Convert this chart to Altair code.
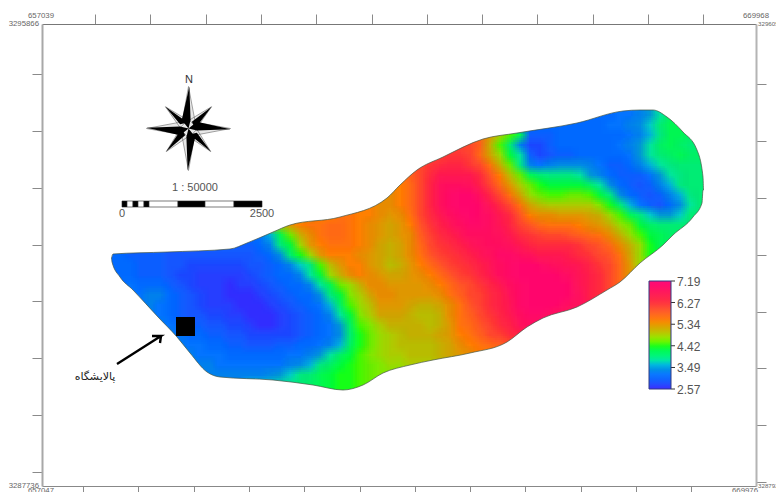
import altair as alt
import pandas as pd

# Values, cell centres on a 10 px lattice: (first column, row centre, values)
rows = [
 (590,115,[3.1,3.1,3.1,3.2,3.2,3.3,3.5,3.8,4.1,4.1,4.1]),
 (530,125,[3.1,3.1,3.1,3.1,3.1,3.1,3.1,3.1,3.2,3.2,3.3,3.4,3.7,4.0,4.2,4.2,4.1]),
 (480,135,[5.7,5.3,4.9,4.5,4.2,3.0,3.0,3.0,3.1,3.1,3.1,3.1,3.1,3.1,3.1,3.2,3.3,3.6,3.9,4.2,4.2,4.1,4.0]),
 (460,145,[6.1,6.0,5.8,5.1,4.5,4.0,3.3,2.8,2.8,3.0,3.1,3.1,3.1,3.1,3.1,3.1,3.2,3.3,3.5,3.8,4.1,4.2,4.1,4.0,4.0]),
 (440,155,[6.1,6.2,6.2,6.1,5.7,5.2,4.8,4.3,3.8,3.0,2.8,2.9,3.0,3.0,3.1,3.1,3.1,3.1,3.1,3.2,3.5,3.8,4.0,4.1,4.2,4.1,4.1]),
 (420,165,[6.0,6.2,6.3,6.4,6.4,6.2,6.0,5.6,5.1,4.6,3.9,3.3,3.2,3.3,3.4,3.4,3.4,3.3,3.2,3.0,3.0,3.1,3.3,3.6,3.8,3.9,4.0,4.0,4.0]),
 (400,175,[5.6,5.8,6.0,6.3,6.6,6.6,6.6,6.6,6.3,5.9,5.5,5.0,4.6,4.2,4.0,3.9,3.9,3.9,3.8,3.5,3.3,3.1,3.0,3.0,3.0,3.2,3.5,3.8,3.9,4.0,4.0]),
 (390,185,[5.4,5.5,5.7,6.0,6.4,6.8,6.9,6.9,6.8,6.5,6.1,5.7,5.3,4.9,4.6,4.4,4.3,4.3,4.3,4.3,4.1,3.8,3.4,3.1,3.0,2.9,3.0,3.3,3.6,3.9,4.0,4.0]),
 (380,195,[5.4,5.4,5.5,5.7,6.0,6.4,6.8,7.0,7.1,7.1,6.8,6.4,6.0,5.6,5.2,4.8,4.6,4.5,4.5,4.6,4.6,4.5,4.3,3.9,3.4,3.1,3.0,2.9,3.0,3.3,3.6,3.9,4.0]),
 (350,205,[5.5,5.5,5.5,5.4,5.4,5.5,5.7,6.0,6.4,6.8,7.0,7.1,7.1,7.0,6.7,6.3,6.0,5.6,5.2,5.0,4.9,4.9,4.9,4.9,4.9,4.7,4.4,4.0,3.6,3.2,3.0,2.9,3.1,3.4,3.8,4.0]),
 (310,215,[5.4,5.5,5.5,5.6,5.6,5.5,5.5,5.4,5.3,5.4,5.6,6.0,6.3,6.6,6.9,7.0,7.1,7.0,6.9,6.6,6.3,5.9,5.5,5.4,5.4,5.3,5.3,5.3,5.2,5.1,4.8,4.5,4.2,3.9,3.7,3.5,3.5,3.7,4.0,4.0]),
 (280,225,[5.0,5.3,5.5,5.6,5.6,5.7,5.7,5.6,5.5,5.4,5.3,5.2,5.3,5.5,5.9,6.2,6.5,6.7,6.9,7.0,7.0,6.9,6.7,6.4,6.1,5.9,5.7,5.6,5.6,5.6,5.5,5.4,5.3,5.1,4.8,4.6,4.3,4.1,4.0,4.0,4.0,4.0]),
 (250,235,[3.1,3.2,3.6,4.2,4.6,5.1,5.4,5.6,5.7,5.7,5.6,5.5,5.4,5.3,5.2,5.3,5.4,5.8,6.1,6.3,6.5,6.7,6.9,6.9,6.9,6.8,6.6,6.3,6.2,6.1,6.0,6.0,5.9,5.8,5.7,5.6,5.4,5.1,4.8,4.5,4.3,4.2,4.1,4.1]),
 (230,245,[3.0,3.0,3.0,3.1,3.3,3.9,4.3,4.8,5.3,5.5,5.6,5.6,5.6,5.5,5.4,5.2,5.1,5.2,5.4,5.7,6.0,6.2,6.3,6.5,6.7,6.8,6.9,6.9,6.8,6.6,6.4,6.3,6.3,6.3,6.3,6.2,6.0,5.9,5.7,5.4,5.1,4.8,4.4,4.2,4.1]),
 (110,255,[3.1,3.1,3.0,3.0,3.0,3.0,2.9,2.9,2.9,2.9,2.9,2.9,2.9,2.9,2.9,3.0,3.1,3.4,4.0,4.4,4.8,5.3,5.5,5.5,5.5,5.4,5.3,5.2,5.1,5.2,5.4,5.6,5.9,6.1,6.2,6.3,6.5,6.7,6.8,7.0,7.0,6.9,6.8,6.6,6.6,6.6,6.5,6.3,6.2,6.0,5.9,5.6,5.2,4.8,4.4,4.3]),
 (110,265,[3.1,3.1,3.1,3.0,3.0,3.0,2.9,2.9,2.8,2.8,2.8,2.8,2.8,2.8,2.9,2.9,3.0,3.1,3.3,3.7,3.9,4.5,5.0,5.3,5.5,5.5,5.3,5.2,5.0,5.1,5.3,5.5,5.7,5.9,6.1,6.2,6.3,6.5,6.7,6.9,7.0,7.1,7.1,7.0,6.9,6.8,6.7,6.6,6.4,6.2,6.0,5.7,5.3,4.8]),
 (110,275,[3.1,3.1,3.1,3.0,3.0,3.0,2.9,2.8,2.8,2.7,2.7,2.7,2.7,2.7,2.8,2.9,3.0,3.1,3.1,3.3,3.8,4.3,4.8,5.1,5.4,5.5,5.4,5.3,5.2,5.2,5.3,5.4,5.5,5.7,5.9,6.1,6.2,6.4,6.6,6.9,7.0,7.1,7.1,7.1,7.1,7.0,6.9,6.7,6.5,6.3,6.0,5.7,5.3]),
 (120,285,[3.1,3.2,3.1,3.1,3.1,3.0,2.9,2.8,2.7,2.7,2.7,2.6,2.7,2.7,2.8,2.9,3.0,3.1,3.1,3.3,3.8,4.2,4.6,4.8,5.1,5.4,5.4,5.3,5.3,5.3,5.3,5.4,5.5,5.7,5.9,6.0,6.2,6.4,6.6,6.9,7.0,7.1,7.1,7.1,7.1,7.0,6.7,6.5,6.3,6.0,5.7]),
 (130,295,[3.2,3.2,3.3,3.3,3.1,3.0,2.9,2.8,2.7,2.7,2.6,2.6,2.6,2.7,2.8,2.9,3.0,3.1,3.1,3.4,3.9,4.3,4.7,4.9,5.2,5.4,5.4,5.3,5.3,5.3,5.3,5.4,5.6,5.8,6.0,6.1,6.3,6.5,6.8,7.0,7.1,7.1,7.1,7.1,7.0,6.8,6.5,6.3,6.1]),
 (140,305,[3.2,3.3,3.2,3.1,3.0,2.9,2.8,2.7,2.7,2.7,2.6,2.6,2.6,2.7,2.8,2.9,3.0,3.1,3.2,3.6,4.1,4.5,4.8,5.0,5.3,5.3,5.3,5.2,5.1,5.1,5.2,5.4,5.6,5.9,6.1,6.3,6.5,6.7,7.0,7.1,7.1,7.1,7.0,6.9,6.8,6.6]),
 (150,315,[3.3,3.2,3.1,3.0,2.9,2.9,2.8,2.8,2.7,2.7,2.6,2.6,2.6,2.7,2.8,2.9,3.0,3.1,3.3,3.8,4.3,4.7,4.9,5.2,5.2,5.2,5.1,5.0,5.0,5.1,5.4,5.6,5.8,6.0,6.2,6.4,6.6,6.9,7.0,7.0,6.9,6.8,6.7]),
 (160,325,[3.3,3.2,3.1,3.0,3.0,2.9,2.9,2.8,2.8,2.7,2.6,2.6,2.7,2.8,2.9,3.0,3.1,3.2,3.5,4.1,4.5,4.7,4.9,5.1,5.1,5.1,5.1,5.0,5.1,5.3,5.6,5.7,5.9,6.1,6.3,6.5,6.8,6.9,6.9]),
 (170,335,[3.3,3.2,3.1,3.1,3.0,3.0,2.9,2.9,2.8,2.8,2.8,2.8,2.8,2.9,3.0,3.1,3.2,3.4,4.0,4.4,4.6,4.8,4.9,5.0,5.1,5.1,5.1,5.2,5.3,5.5,5.6,5.8,6.0,6.1,6.3,6.4]),
 (180,345,[3.3,3.2,3.2,3.1,3.1,3.0,3.0,2.9,2.9,2.9,3.0,3.0,3.1,3.1,3.2,3.3,3.6,4.1,4.4,4.6,4.8,4.9,5.0,5.0,5.0,5.0,5.1,5.2,5.4,5.5,5.6,5.7,5.8,5.9]),
 (190,355,[3.3,3.2,3.2,3.2,3.1,3.1,3.1,3.1,3.1,3.1,3.2,3.2,3.3,3.5,3.8,4.1,4.3,4.5,4.7,4.8,4.9,4.9,5.0,5.0,5.0,5.1,5.2,5.3,5.4,5.5]),
 (200,365,[3.3,3.3,3.2,3.2,3.2,3.2,3.2,3.2,3.2,3.3,3.4,3.6,3.9,4.1,4.3,4.4,4.5,4.6,4.7,4.8,4.8,4.9,4.9,4.9,5.0]),
 (210,375,[3.3,3.3,3.3,3.3,3.3,3.3,3.4,3.5,3.7,3.9,4.0,4.2,4.3,4.4,4.4,4.5,4.6,4.7,4.7]),
 (270,385,[3.7,3.8,3.9,4.0,4.1,4.2,4.3,4.4,4.4,4.5,4.6]),
]

# The same readings are painted several times with small shifts and falling opacity, so
# that the cells blend into the soft gradient of the original raster.
steps = [0, -4, -2, 2, 4]
shifts = [(a, b) for a in steps for b in steps]
cells = []
for k, (dx, dy) in enumerate(shifts):
    for s, y, vals in rows:
        padded = [vals[0]] * 2 + vals + [vals[-1]] * 2
        for i, v in enumerate(padded):
            c = s + 10 * (i - 2) + dx
            cells.append({"x0": c - 5, "x1": c + 5, "y0": y + dy - 5, "y1": y + dy + 5,
                          "v": v, "op": round(1 / (k + 1), 3)})

top_x = [75,111.5,113,167,230,247,273,290,340,387,400,417,443,483,517,577,623,640,653,667,683,697,703,703.5,735]
top_y = [258,258,254,252,249,243,232,225,217,198,185,170,157,139,133,123,111,110,110,117,132,150,177,190,190]
bot_x = [75,111.5,112,120,133,158,177,190,207,220,273,313,343,363,383,410,433,470,507,527,543,577,607,620,640,663,673,693,702,703,703.5,735]
bot_y = [258,258,262,277,290,317,337,353,372,377,380,385,390,385,373,365,360,353,342,327,318,307,290,282,263,245,235,217,203,190,190,190]

stops = [2.57,2.9,3.2,3.49,3.85,4.42,4.7,5.1,5.5,6.27,7.19]
stop_colors = ["#3c2cff","#1b5cff","#0a78ff","#0098d8","#00f08c","#20ff10","#80f000","#c8b400","#ff8000","#ff3040","#ff0a78"]
legend_vals = [2.57,3.49,4.42,5.34,6.27,7.19]

top_ticks = [95,150.3,205.6,260.9,316.2,371.5,426.8,482.1,537.4,592.7,648,703.3]
bot_ticks = [83,138.3,193.6,248.9,304.2,359.5,414.8,470.1,525.4,580.7,636,691.3]
left_ticks = [73.7,130.6,187.6,244.5,301,358,414.5,471.7]
right_ticks = [84,141,198,255,312,368,425,482]

seg_a = [122,127,133,138,144,149,178,205,234]
seg_b = [127,133,138,144,149,178,205,234,262]
seg_c = ["k","w","k","w","k","w","k","w","k"]

corner_txt = ["657039","3295866","669968","329605","3287736","328792","657047","669976"]
corner_x = [41,39,756,758,39,758,41,745]
corner_y = [16,24,16,24,486,486,491,491]
corner_al = ["center","right","center","left","right","left","center","center"]
corner_fs = [7.8,7.8,7.8,6.2,7.8,6.2,7.8,7.8]

texts = [("N",189,80,11,"#333","center","Liberation Sans"),
         ("1 : 50000",195,188,11,"#555","center","Liberation Sans"),
         ("0",122,214,11,"#555","center","Liberation Sans"),
         ("2500",262,214,11,"#555","center","Liberation Sans"),
         ("پالایشگاه",95,377,11,"#222","center","DejaVu Sans")]

arrow_x = [117,161,152,161,160]
arrow_y = [364,336,336,336,343]

STAR_LIGHT = ("M0,-1 L0.16,-0.15 L1,0 L0.15,0.16 L0,1 L-0.16,0.15 L-1,0 L-0.15,-0.16 Z "
              "M-0.55,-0.52 L-0.02,-0.2 L-0.2,-0.02 Z M0.55,-0.52 L0.2,-0.02 L0.02,-0.2 Z "
              "M0.53,0.55 L0.02,0.2 L0.2,0.02 Z M-0.53,0.55 L-0.2,0.02 L-0.02,0.2 Z")
STAR_DARK = ("M0.02,-1 L-0.16,-0.2 L0,0 L0.05,-0.2 Z M1,0.02 L0.2,-0.16 L0,0 L0.2,0.05 Z "
             "M-0.02,1 L0.16,0.2 L0,0 L-0.05,0.2 Z M-1,-0.02 L-0.2,0.16 L0,0 L-0.2,-0.05 Z "
             "M-0.55,-0.52 L-0.2,-0.1 L-0.02,-0.14 Z M0.55,-0.52 L0.08,-0.16 L0.16,0 Z "
             "M0.53,0.55 L0.2,0.1 L0.02,0.14 Z M-0.53,0.55 L-0.08,0.16 L-0.16,0 Z")

xs = alt.Scale(domain=[42,756], nice=False, zero=False)
ys = alt.Scale(domain=[486,24], nice=False, zero=False)
X = lambda f, **k: alt.X(f, type="quantitative", scale=xs, title=None, **k)
Y = lambda f, **k: alt.Y(f, type="quantitative", scale=ys, title=None, **k)
no = dict(axis=None)

def ax(orient, vals, color, width, size=10):
    return alt.Axis(orient=orient, values=vals, labels=False, title=None, grid=False, tickSize=size,
                    tickColor="#8a8a8a", tickWidth=1, domainColor=color, domainWidth=width)

alt.data_transformers.disable_max_rows()

heat = alt.Chart(pd.DataFrame(cells)).mark_rect().encode(
    x=X("x0:Q", axis=ax("top", top_ticks, "#777777", 1)), x2="x1:Q",
    y=Y("y0:Q", axis=ax("left", left_ticks, "#a8a8a8", 2)), y2="y1:Q",
    opacity=alt.Opacity("op:Q", scale=None),
    color=alt.Color("v:Q", scale=alt.Scale(domain=stops, range=stop_colors),
        legend=alt.Legend(orient="none", legendX=607, legendY=257, title=None, direction="vertical",
                          gradientLength=108, gradientThickness=22, gradientStrokeColor="#333a80",
                          gradientStrokeWidth=1, values=legend_vals, labelExpr="''", labelFontSize=1)),
)

dfm_top = pd.DataFrame({"x": top_x, "y": top_y})
dfm_bot = pd.DataFrame({"x": bot_x, "y": bot_y})
mask_top = alt.Chart(dfm_top).mark_area(color="white", interpolate="monotone").encode(
    x=X("x:Q", axis=ax("bottom", bot_ticks, "#888888", 1, 6)),
    y=Y("y:Q", axis=ax("right", right_ticks, "#b4b4b4", 2)), y2=alt.Y2(datum=90))
mask_bot = alt.Chart(dfm_bot).mark_area(color="white", interpolate="monotone").encode(
    x=X("x:Q", **no), y=Y("y:Q", **no), y2=alt.Y2(datum=410))
line_top = alt.Chart(dfm_top[(dfm_top.x > 75) & (dfm_top.x < 735)]).mark_line(
    color="#445544", strokeWidth=0.7, interpolate="monotone").encode(x=X("x:Q", **no), y=Y("y:Q", **no))
line_bot = alt.Chart(dfm_bot[(dfm_bot.x > 75) & (dfm_bot.x < 735)]).mark_line(
    color="#445544", strokeWidth=0.7, interpolate="monotone").encode(x=X("x:Q", **no), y=Y("y:Q", **no))

station = alt.Chart(pd.DataFrame({"x": [176], "x2": [195], "y": [317], "y2": [336]})).mark_rect(color="black").encode(
    x=X("x:Q", **no), x2="x2:Q", y=Y("y:Q", **no), y2="y2:Q")
arrow = alt.Chart(pd.DataFrame({"x": arrow_x, "y": arrow_y, "o": range(5)})).mark_line(
    color="black", strokeWidth=2.4).encode(x=X("x:Q", **no), y=Y("y:Q", **no), order="o:Q")

comp = pd.DataFrame({"x": [188.5], "y": [128.5]})
star1 = alt.Chart(comp).mark_point(shape=STAR_LIGHT, filled=True, fill="#e8e8e8", stroke="#666666",
                                   strokeWidth=0.6, size=7056, opacity=1).encode(
    x=X("x:Q", **no), y=Y("y:Q", **no))
star2 = alt.Chart(comp).mark_point(shape=STAR_DARK, filled=True, fill="black", strokeWidth=0,
                                   size=7056, opacity=1).encode(x=X("x:Q", **no), y=Y("y:Q", **no))

bar = alt.Chart(pd.DataFrame({"a": seg_a, "b": seg_b, "c": seg_c})).mark_rect(
    stroke="#222222", strokeWidth=0.6).encode(
    x=X("a:Q", **no), x2="b:Q", y=alt.Y(datum=201, scale=ys, axis=None), y2=alt.Y2(datum=207),
    fill=alt.Fill("c:N", scale=alt.Scale(domain=["k","w"], range=["black","white"]), legend=None))

corners_df = pd.DataFrame({"t": corner_txt, "x": corner_x, "y": corner_y, "a": corner_al, "fs": corner_fs})
corner_layers = [alt.Chart(corners_df.iloc[[i]]).mark_text(
    font="Liberation Sans", fontSize=float(r.fs), color="#666666", align=r.a, baseline="middle", clip=False).encode(
    x=X("x:Q", **no), y=Y("y:Q", **no), text="t:N") for i, r in enumerate(corners_df.itertuples())]

text_layers = [alt.Chart(pd.DataFrame({"t": [t], "x": [x], "y": [y]})).mark_text(
    font=f, fontSize=s, color=c, align=a, baseline="middle").encode(
    x=X("x:Q", **no), y=Y("y:Q", **no), text="t:N") for t, x, y, s, c, a, f in texts]

legend_df = pd.DataFrame({"v": legend_vals, "lab": [f"{v:.2f}" for v in legend_vals]})
lt_x = alt.Chart(legend_df).transform_calculate(
    py="389 - (datum.v - 2.57) / 4.62 * 108").mark_rule(color="#333333", strokeWidth=1).encode(
    x=alt.X(datum=671, scale=xs, axis=None), x2=alt.X2(datum=675), y=Y("py:Q", **no))
lt_txt = alt.Chart(legend_df).transform_calculate(
    py="390 - (datum.v - 2.57) / 4.62 * 108").mark_text(
    font="Liberation Sans", fontSize=12, color="#555555", align="left", baseline="middle").encode(
    x=alt.X(datum=677, scale=xs, axis=None), y=Y("py:Q", **no), text="lab:N")

chart = alt.layer(heat, mask_top, mask_bot, line_top, line_bot, station, arrow, star1, star2, bar,
                  lt_x, lt_txt, *corner_layers, *text_layers).resolve_scale(
    fill="independent", color="independent").resolve_axis(x="independent", y="independent").properties(
    width=714, height=462, padding={"left": 34, "top": 16, "right": 20, "bottom": 6},
    autosize=alt.AutoSizeParams(type="none"), background="white").configure_view(stroke=None)

chart.save("out.html", embed_options={"renderer": "svg", "actions": False})
